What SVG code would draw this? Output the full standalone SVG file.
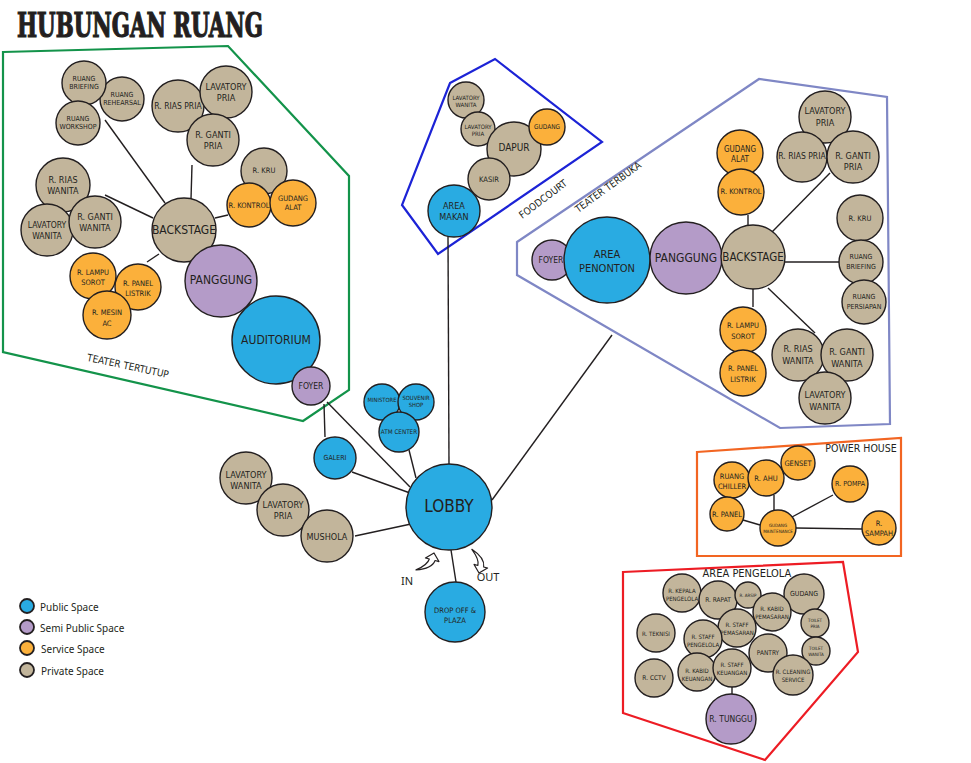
<svg xmlns="http://www.w3.org/2000/svg" width="971" height="763" viewBox="0 0 971 763">
<style>
.n circle{stroke:#231f20;stroke-width:1.4}
.pub{fill:#29abe2}.semi{fill:#b49bc8}.serv{fill:#fbb03b}.priv{fill:#c2b59b}
text{font-family:'Liberation Sans Narrow','DejaVu Sans Condensed',sans-serif;fill:#231f20;text-anchor:middle;dominant-baseline:central}
.zone{fill:none;stroke-width:2.2}
.lg{font-family:'Noto Sans','Open Sans',sans-serif;text-anchor:start;font-size:10px}
#connectors line{stroke:#231f20;stroke-width:1.4}
.arr{fill:#fff;stroke:#231f20;stroke-width:1.2;stroke-linejoin:round}
#legend circle{stroke-width:1.8}
</style>
<rect width="971" height="763" fill="#fff"/>
<text x="17" y="25" font-size="33" font-weight="bold" textLength="246" lengthAdjust="spacingAndGlyphs" stroke="#231f20" stroke-width="1.2" style="text-anchor:start;font-family:'DejaVu Serif Condensed','DejaVu Serif',serif">HUBUNGAN RUANG</text>

<g id="zones">
<polygon class="zone" stroke="#13934a" points="3,52 228,46 349,176 349,390 303,421 3,352"/>
<polygon class="zone" stroke="#1c23d6" points="450,83 495,59 602,142 438,254 402,205"/>
<polygon class="zone" stroke="#7f87c5" points="517,242 759,79 887,97 890,424 780,428 517,275"/>
<polygon class="zone" stroke="#f26522" stroke-width="1.6" points="697,452 901,438 901,556 697,556"/>
<polygon class="zone" stroke="#ed1c24" points="623,572 843,562 858,652 765,760 623,713"/>
<text x="128" y="366" font-size="10" transform="rotate(12 128 366)">TEATER TERTUTUP</text>
<text x="543" y="199" font-size="10" transform="rotate(-37 543 199)">FOODCOURT</text>
<text x="608" y="187" font-size="10" transform="rotate(-36 608 187)">TEATER TERBUKA</text>
<text x="861" y="448" font-size="10.5">POWER HOUSE</text>
<text x="747" y="573" font-size="11">AREA PENGELOLA</text>
</g>

<g id="connectors">
<line x1="105" y1="120" x2="165" y2="203"/>
<line x1="192" y1="165" x2="191" y2="199"/>
<line x1="105" y1="195" x2="153" y2="218"/>
<line x1="215" y1="218" x2="228" y2="215"/>
<line x1="147" y1="262" x2="159" y2="254"/>
<line x1="448" y1="237" x2="449" y2="465"/>
<line x1="748" y1="215" x2="748" y2="226"/>
<line x1="772" y1="232" x2="830" y2="173"/>
<line x1="785" y1="262" x2="840" y2="262"/>
<line x1="753" y1="289" x2="753" y2="307"/>
<line x1="768" y1="288" x2="815" y2="333"/>
<line x1="612" y1="335" x2="492" y2="500"/>
<line x1="451" y1="550" x2="456" y2="582"/>
<line x1="325" y1="437" x2="324" y2="404"/>
<line x1="327" y1="402" x2="410" y2="487"/>
<line x1="352" y1="472" x2="410" y2="493"/>
<line x1="409" y1="450" x2="416" y2="478"/>
<line x1="355" y1="536" x2="411" y2="524"/>
<line x1="774" y1="495" x2="774" y2="510"/>
<line x1="743" y1="520" x2="760" y2="525"/>
<line x1="792" y1="517" x2="833" y2="495"/>
<line x1="796" y1="528" x2="862" y2="529"/>
<line x1="732" y1="687" x2="732" y2="694"/>
<path class="arr" transform="translate(434,553) rotate(15)" d="M0,0 L7,7 L3,7 Q2,16 -13,21 Q-3,13 -3,7 L-7,7 Z"/>
<path class="arr" transform="translate(479,573) scale(1,-1) rotate(-15)" d="M0,0 L7,7 L3,7 Q2,16 -13,21 Q-3,13 -3,7 L-7,7 Z"/>
<text x="407" y="580" font-size="11" style="font-family:'Noto Sans','Open Sans',sans-serif">IN</text>
<text x="488" y="576" font-size="11" style="font-family:'Noto Sans','Open Sans',sans-serif">OUT</text>
</g>

<g class="n">
<!-- Teater Tertutup -->
<g id="tt-rehearsal"><circle class="priv" cx="122" cy="99" r="22"/><text font-size="7"><tspan x="122" y="95">RUANG</tspan><tspan x="122" y="103">REHEARSAL</tspan></text></g>
<g id="tt-briefing"><circle class="priv" cx="84" cy="83" r="22"/><text font-size="7"><tspan x="84" y="79">RUANG</tspan><tspan x="84" y="87">BRIEFING</tspan></text></g>
<g id="tt-workshop"><circle class="priv" cx="78" cy="123" r="22"/><text font-size="7"><tspan x="78" y="119">RUANG</tspan><tspan x="78" y="127">WORKSHOP</tspan></text></g>
<g id="tt-riaspria"><circle class="priv" cx="178" cy="106" r="26"/><text x="178" y="106" font-size="8.5">R. RIAS PRIA</text></g>
<g id="tt-lavpria"><circle class="priv" cx="226" cy="92" r="26"/><text font-size="9"><tspan x="226" y="87">LAVATORY</tspan><tspan x="226" y="98">PRIA</tspan></text></g>
<g id="tt-gantipria"><circle class="priv" cx="213" cy="140" r="26"/><text font-size="9"><tspan x="213" y="135">R. GANTI</tspan><tspan x="213" y="146">PRIA</tspan></text></g>
<g id="tt-kru"><circle class="priv" cx="264" cy="171" r="23"/><text x="264" y="170" font-size="7.5">R. KRU</text></g>
<g id="tt-kontrol"><circle class="serv" cx="249" cy="205" r="22"/><text x="249" y="205" font-size="7.5">R. KONTROL</text></g>
<g id="tt-gudang"><circle class="serv" cx="293" cy="203" r="23"/><text font-size="7.5"><tspan x="293" y="198">GUDANG</tspan><tspan x="293" y="207">ALAT</tspan></text></g>
<g id="tt-riaswanita"><circle class="priv" cx="63" cy="185" r="27"/><text font-size="9"><tspan x="63" y="180">R. RIAS</tspan><tspan x="63" y="191">WANITA</tspan></text></g>
<g id="tt-lavwanita"><circle class="priv" cx="47" cy="230" r="26"/><text font-size="8.5"><tspan x="47" y="225">LAVATORY</tspan><tspan x="47" y="236">WANITA</tspan></text></g>
<g id="tt-gantiwanita"><circle class="priv" cx="95" cy="222" r="26"/><text font-size="9"><tspan x="95" y="217">R. GANTI</tspan><tspan x="95" y="228">WANITA</tspan></text></g>
<g id="tt-backstage"><circle class="priv" cx="184" cy="230" r="32"/><text x="184" y="230" font-size="12">BACKSTAGE</text></g>
<g id="tt-panggung"><circle class="semi" cx="221" cy="281" r="36"/><text x="221" y="280" font-size="12">PANGGUNG</text></g>
<g id="tt-auditorium"><circle class="pub" cx="276" cy="340" r="44"/><text x="276" y="340" font-size="12">AUDITORIUM</text></g>
<g id="tt-foyer"><circle class="semi" cx="311" cy="386" r="19"/><text x="311" y="386" font-size="8.5">FOYER</text></g>
<g id="tt-lampu"><circle class="serv" cx="93" cy="276" r="23"/><text font-size="7.5"><tspan x="93" y="272">R. LAMPU</tspan><tspan x="93" y="282">SOROT</tspan></text></g>
<g id="tt-panel"><circle class="serv" cx="138" cy="287" r="23"/><text font-size="7.5"><tspan x="138" y="283">R. PANEL</tspan><tspan x="138" y="293">LISTRIK</tspan></text></g>
<g id="tt-mesin"><circle class="serv" cx="107" cy="315" r="24"/><text font-size="7.5"><tspan x="107" y="312">R. MESIN</tspan><tspan x="107" y="323">AC</tspan></text></g>

<!-- Foodcourt -->
<g id="fc-lavwanita"><circle class="priv" cx="466" cy="100" r="18"/><text font-size="6"><tspan x="466" y="97">LAVATORY</tspan><tspan x="466" y="104">WANITA</tspan></text></g>
<g id="fc-lavpria"><circle class="priv" cx="478" cy="129" r="17"/><text font-size="6"><tspan x="478" y="126">LAVATORY</tspan><tspan x="478" y="133">PRIA</tspan></text></g>
<g id="fc-dapur"><circle class="priv" cx="514" cy="149" r="27"/><text x="514" y="147" font-size="10">DAPUR</text></g>
<g id="fc-gudang"><circle class="serv" cx="547" cy="127" r="18"/><text x="547" y="127" font-size="6.5">GUDANG</text></g>
<g id="fc-kasir"><circle class="priv" cx="489" cy="179" r="21"/><text x="489" y="179" font-size="7.5">KASIR</text></g>
<g id="fc-areamakan"><circle class="pub" cx="454" cy="211" r="26"/><text font-size="9"><tspan x="454" y="206">AREA</tspan><tspan x="454" y="217">MAKAN</tspan></text></g>

<!-- Teater Terbuka -->
<g id="tb-foyer"><circle class="semi" cx="552" cy="260" r="20"/><text x="551" y="260" font-size="8.5">FOYER</text></g>
<g id="tb-penonton"><circle class="pub" cx="607" cy="260" r="43"/><text font-size="11"><tspan x="607" y="254">AREA</tspan><tspan x="607" y="268">PENONTON</tspan></text></g>
<g id="tb-panggung"><circle class="semi" cx="686" cy="258" r="36"/><text x="686" y="258" font-size="12">PANGGUNG</text></g>
<g id="tb-backstage"><circle class="priv" cx="753" cy="257" r="32"/><text x="753" y="257" font-size="11.5">BACKSTAGE</text></g>
<g id="tb-gudang"><circle class="serv" cx="740" cy="153" r="23"/><text font-size="8"><tspan x="740" y="149">GUDANG</tspan><tspan x="740" y="159">ALAT</tspan></text></g>
<g id="tb-kontrol"><circle class="serv" cx="741" cy="192" r="23"/><text x="741" y="191" font-size="7.5">R. KONTROL</text></g>
<g id="tb-lavpria"><circle class="priv" cx="825" cy="117" r="26"/><text font-size="9"><tspan x="825" y="111">LAVATORY</tspan><tspan x="825" y="123">PRIA</tspan></text></g>
<g id="tb-riaspria"><circle class="priv" cx="802" cy="157" r="25"/><text x="802" y="156" font-size="8.5">R. RIAS PRIA</text></g>
<g id="tb-gantipria"><circle class="priv" cx="853" cy="157" r="26"/><text font-size="9"><tspan x="853" y="156">R. GANTI</tspan><tspan x="853" y="167">PRIA</tspan></text></g>
<g id="tb-kru"><circle class="priv" cx="860" cy="218" r="23"/><text x="860" y="218" font-size="7.5">R. KRU</text></g>
<g id="tb-briefing"><circle class="priv" cx="861" cy="262" r="22"/><text font-size="7"><tspan x="861" y="257">RUANG</tspan><tspan x="861" y="267">BRIEFING</tspan></text></g>
<g id="tb-persiapan"><circle class="priv" cx="864" cy="302" r="22"/><text font-size="7"><tspan x="864" y="297">RUANG</tspan><tspan x="864" y="307">PERSIAPAN</tspan></text></g>
<g id="tb-lampu"><circle class="serv" cx="743" cy="330" r="23"/><text font-size="7.5"><tspan x="743" y="325">R. LAMPU</tspan><tspan x="743" y="336">SOROT</tspan></text></g>
<g id="tb-panel"><circle class="serv" cx="743" cy="373" r="23"/><text font-size="7.5"><tspan x="743" y="368">R. PANEL</tspan><tspan x="743" y="379">LISTRIK</tspan></text></g>
<g id="tb-riaswanita"><circle class="priv" cx="798" cy="355" r="26"/><text font-size="9"><tspan x="798" y="349">R. RIAS</tspan><tspan x="798" y="361">WANITA</tspan></text></g>
<g id="tb-gantiwanita"><circle class="priv" cx="847" cy="355" r="26"/><text font-size="9"><tspan x="847" y="352">R. GANTI</tspan><tspan x="847" y="364">WANITA</tspan></text></g>
<g id="tb-lavwanita"><circle class="priv" cx="825" cy="398" r="26"/><text font-size="9"><tspan x="825" y="395">LAVATORY</tspan><tspan x="825" y="407">WANITA</tspan></text></g>

<!-- Center -->
<g id="lobby"><circle class="pub" cx="449" cy="507" r="43"/><text x="449" y="506" font-size="17">LOBBY</text></g>
<g id="dropoff"><circle class="pub" cx="455" cy="612" r="30"/><text font-size="7.5"><tspan x="455" y="610">DROP OFF &amp;</tspan><tspan x="455" y="620">PLAZA</tspan></text></g>
<g id="galeri"><circle class="pub" cx="335" cy="458" r="21"/><text x="335" y="458" font-size="7">GALERI</text></g>
<g id="ministore"><circle class="pub" cx="382" cy="402" r="18"/><text x="382" y="400" font-size="5.8">MINISTORE</text></g>
<g id="souvenir"><circle class="pub" cx="416" cy="402" r="18"/><text font-size="5.8"><tspan x="416" y="398">SOUVENIR</tspan><tspan x="416" y="405">SHOP</tspan></text></g>
<g id="atm"><circle class="pub" cx="399" cy="432" r="20"/><text x="399" y="431" font-size="6.3">ATM CENTER</text></g>
<g id="c-lavwanita"><circle class="priv" cx="246" cy="478" r="26"/><text font-size="9"><tspan x="246" y="475">LAVATORY</tspan><tspan x="246" y="486">WANITA</tspan></text></g>
<g id="c-lavpria"><circle class="priv" cx="283" cy="510" r="26"/><text font-size="9"><tspan x="283" y="505">LAVATORY</tspan><tspan x="283" y="516">PRIA</tspan></text></g>
<g id="mushola"><circle class="priv" cx="327" cy="536" r="26"/><text x="327" y="537" font-size="9">MUSHOLA</text></g>

<!-- Power House -->
<g id="ph-chiller"><circle class="serv" cx="732" cy="480" r="18"/><text font-size="7.5"><tspan x="732" y="476">RUANG</tspan><tspan x="732" y="486">CHILLER</tspan></text></g>
<g id="ph-ahu"><circle class="serv" cx="766" cy="478" r="18"/><text x="766" y="478" font-size="7.5">R. AHU</text></g>
<g id="ph-genset"><circle class="serv" cx="798" cy="463" r="17"/><text x="798" y="463" font-size="7.5">GENSET</text></g>
<g id="ph-panel"><circle class="serv" cx="727" cy="514" r="17"/><text x="727" y="514" font-size="7.5">R. PANEL</text></g>
<g id="ph-gudang"><circle class="serv" cx="778" cy="528" r="18"/><text font-size="4.5"><tspan x="778" y="525">GUDANG</tspan><tspan x="778" y="531">MAINTENANCE</tspan></text></g>
<g id="ph-pompa"><circle class="serv" cx="850" cy="484" r="18"/><text x="850" y="484" font-size="7">R. POMPA</text></g>
<g id="ph-sampah"><circle class="serv" cx="879" cy="528" r="17"/><text font-size="7.5"><tspan x="879" y="523">R.</tspan><tspan x="879" y="533">SAMPAH</tspan></text></g>

<!-- Area Pengelola -->
<g id="ap-kepala"><circle class="priv" cx="682" cy="593" r="19"/><text font-size="6"><tspan x="682" y="590">R. KEPALA</tspan><tspan x="682" y="598">PENGELOLA</tspan></text></g>
<g id="ap-rapat"><circle class="priv" cx="718" cy="600" r="19"/><text x="718" y="600" font-size="6.5">R. RAPAT</text></g>
<g id="ap-arsip"><circle class="priv" cx="748" cy="595" r="13"/><text x="748" y="595" font-size="4.5">R. ARSIP</text></g>
<g id="ap-gudang"><circle class="priv" cx="804" cy="594" r="20"/><text x="804" y="594" font-size="7">GUDANG</text></g>
<g id="ap-staffpem"><circle class="priv" cx="737" cy="628" r="19"/><text font-size="6"><tspan x="737" y="624">R. STAFF</tspan><tspan x="737" y="632">PEMASARAN</tspan></text></g>
<g id="ap-kabidpem"><circle class="priv" cx="772" cy="612" r="19"/><text font-size="6"><tspan x="772" y="608">R. KABID</tspan><tspan x="772" y="616">PEMASARAN</tspan></text></g>
<g id="ap-toiletpria"><circle class="priv" cx="815" cy="623" r="14"/><text font-size="4.5"><tspan x="815" y="620">TOILET</tspan><tspan x="815" y="626">PRIA</tspan></text></g>
<g id="ap-toiletwanita"><circle class="priv" cx="816" cy="651" r="14"/><text font-size="4.5"><tspan x="816" y="648">TOILET</tspan><tspan x="816" y="654">WANITA</tspan></text></g>
<g id="ap-teknisi"><circle class="priv" cx="656" cy="633" r="19"/><text x="656" y="633" font-size="6">R. TEKNISI</text></g>
<g id="ap-staffpeng"><circle class="priv" cx="703" cy="639" r="19"/><text font-size="6"><tspan x="703" y="636">R. STAFF</tspan><tspan x="703" y="644">PENGELOLA</tspan></text></g>
<g id="ap-pantry"><circle class="priv" cx="768" cy="653" r="19"/><text x="768" y="653" font-size="6.5">PANTRY</text></g>
<g id="ap-cctv"><circle class="priv" cx="654" cy="678" r="19"/><text x="654" y="678" font-size="6.5">R. CCTV</text></g>
<g id="ap-kabidkeu"><circle class="priv" cx="697" cy="672" r="19"/><text font-size="6"><tspan x="697" y="670">R. KABID</tspan><tspan x="697" y="678">KEUANGAN</tspan></text></g>
<g id="ap-staffkeu"><circle class="priv" cx="732" cy="668" r="19"/><text font-size="6"><tspan x="732" y="664">R. STAFF</tspan><tspan x="732" y="672">KEUANGAN</tspan></text></g>
<g id="ap-cleaning"><circle class="priv" cx="793" cy="675" r="20"/><text font-size="6"><tspan x="793" y="671">R. CLEANING</tspan><tspan x="793" y="679">SERVICE</tspan></text></g>
<g id="ap-tunggu"><circle class="semi" cx="731" cy="719" r="25"/><text x="731" y="719" font-size="8.5">R. TUNGGU</text></g>
</g>

<g id="legend" class="n">
<circle class="pub" cx="27" cy="606" r="7"/><text class="lg" x="40" y="607">Public Space</text>
<circle class="semi" cx="27" cy="627" r="7"/><text class="lg" x="40" y="628">Semi Public Space</text>
<circle class="serv" cx="27" cy="648" r="7"/><text class="lg" x="41" y="649">Service Space</text>
<circle class="priv" cx="27" cy="670" r="7"/><text class="lg" x="41" y="671">Private Space</text>
</g>
</svg>
